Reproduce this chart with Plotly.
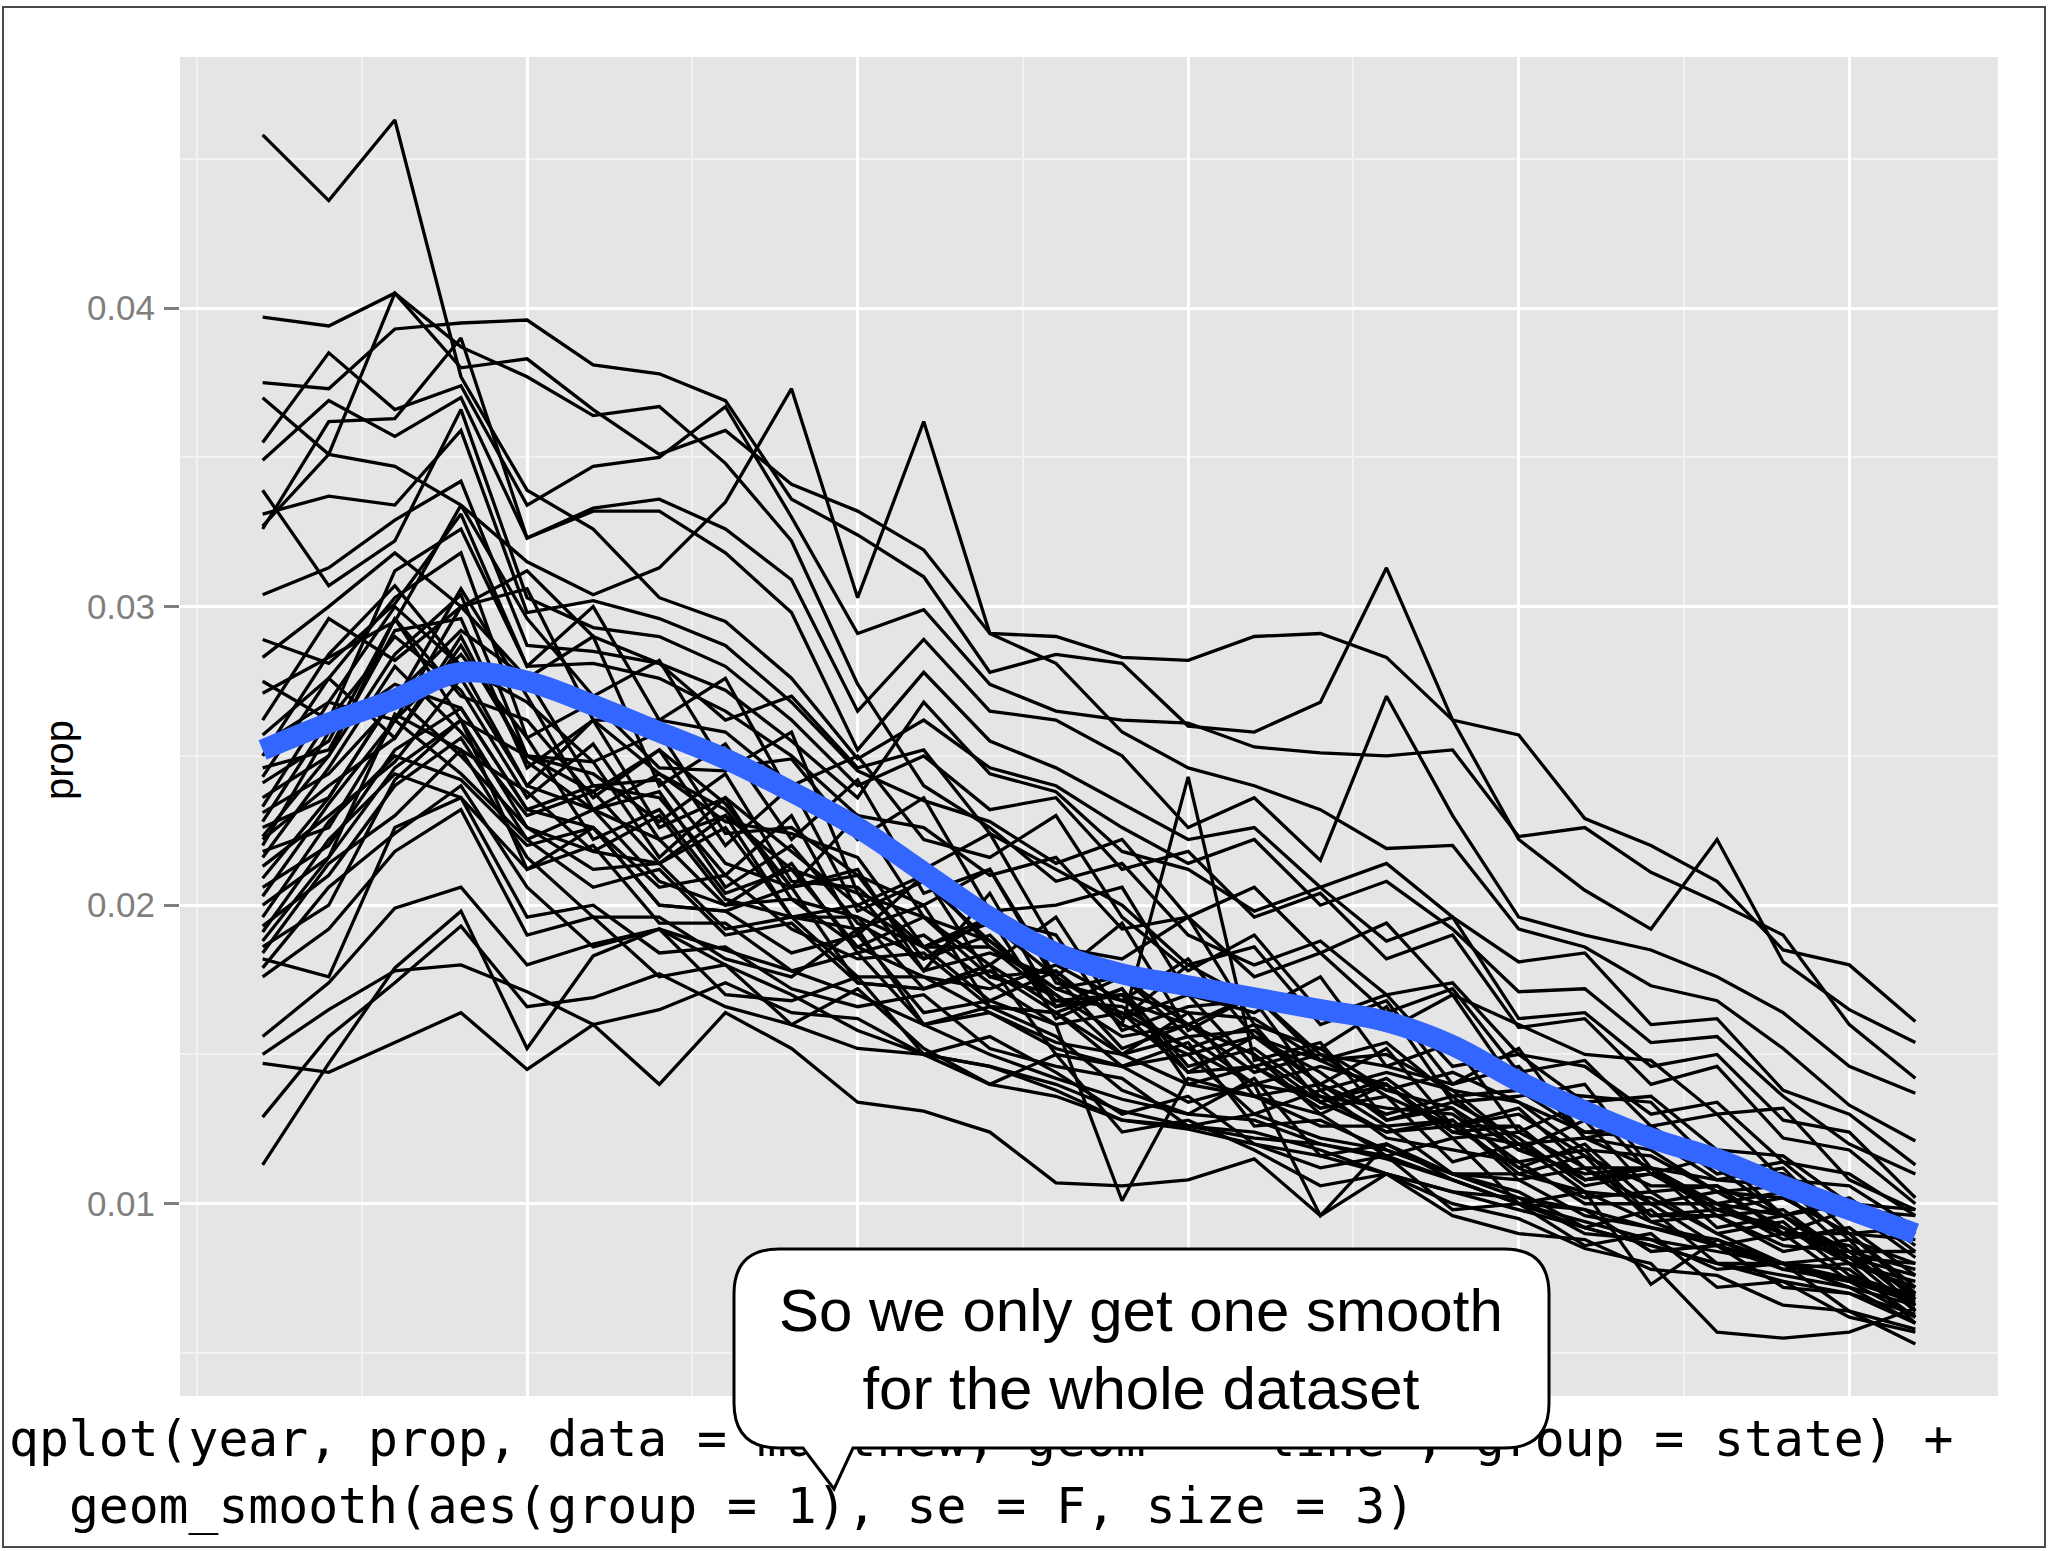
import plotly.graph_objects as go

# ---------------- data ----------------
years = [1986, 1987, 1988, 1989, 1990, 1991, 1992, 1993, 1994, 1995, 1996, 1997, 1998,
         1999, 2000, 2001, 2002, 2003, 2004, 2005, 2006, 2007, 2008, 2009, 2010, 2011]

# proportion of babies named Matthew, one series per state, in units of 1/10000
state_01 = [458, 436, 463, 377, 339, 326, 303, 295, 276, 249, 262, 246, 240, 226, 214, 222, 200, 208, 192, 171, 172, 154, 156, 136, 120, 110]
state_02 = [397, 394, 405, 380, 383, 366, 351, 359, 341, 332, 319, 291, 290, 283, 282, 290, 291, 283, 262, 257, 229, 220, 208, 185, 180, 161]
state_03 = [375, 373, 393, 395, 396, 381, 378, 369, 336, 324, 310, 278, 284, 281, 260, 258, 268, 313, 262, 222, 205, 192, 222, 181, 165, 154]
state_04 = [370, 351, 347, 334, 315, 304, 313, 335, 373, 303, 362, 291, 281, 258, 246, 240, 232, 219, 220, 192, 186, 173, 168, 152, 133, 121]
state_05 = [355, 385, 366, 374, 334, 347, 350, 367, 330, 291, 299, 274, 265, 262, 261, 253, 251, 250, 252, 223, 226, 211, 201, 190, 160, 142]
state_06 = [349, 369, 357, 370, 323, 333, 336, 326, 309, 265, 289, 265, 262, 250, 226, 236, 215, 270, 230, 196, 190, 185, 176, 164, 146, 137]
state_07 = [339, 307, 322, 366, 303, 293, 290, 280, 262, 240, 250, 232, 236, 212, 218, 196, 204, 182, 190, 159, 162, 140, 146, 122, 118, 100]
state_08 = [331, 337, 334, 359, 298, 302, 296, 287, 268, 245, 235, 228, 214, 222, 196, 206, 184, 194, 170, 160, 150, 148, 130, 132, 108, 98]
state_09 = [327, 351, 405, 387, 377, 364, 367, 348, 322, 274, 240, 226, 208, 214, 190, 180, 188, 170, 174, 150, 146, 130, 134, 114, 110, 96]
state_10 = [326, 362, 363, 390, 323, 332, 332, 318, 298, 252, 278, 255, 246, 234, 222, 226, 206, 214, 196, 181, 184, 160, 162, 138, 130, 113]
state_11 = [304, 313, 329, 342, 287, 285, 281, 272, 255, 236, 268, 244, 238, 218, 212, 198, 206, 188, 196, 162, 164, 146, 150, 128, 124, 102]
state_12 = [289, 281, 301, 331, 280, 281, 276, 265, 250, 230, 226, 210, 216, 192, 196, 176, 184, 164, 172, 144, 148, 126, 130, 108, 106, 92]
state_13 = [283, 300, 318, 300, 312, 290, 281, 262, 270, 246, 252, 224, 212, 200, 180, 186, 160, 168, 140, 146, 122, 118, 104, 106, 88, 80]
state_14 = [275, 262, 312, 326, 280, 300, 262, 258, 240, 250, 222, 216, 230, 196, 178, 190, 164, 158, 170, 138, 136, 134, 112, 110, 98, 96]
state_15 = [271, 283, 295, 334, 296, 270, 282, 246, 249, 222, 236, 198, 200, 206, 170, 164, 176, 146, 140, 152, 122, 126, 112, 96, 102, 86]
state_16 = [262, 296, 282, 300, 306, 262, 262, 276, 236, 226, 212, 224, 186, 182, 196, 160, 152, 166, 134, 136, 140, 112, 108, 112, 90, 92]
state_17 = [257, 276, 303, 318, 256, 268, 246, 245, 258, 204, 196, 188, 170, 156, 160, 150, 134, 140, 124, 126, 108, 112, 96, 98, 82, 80]
state_18 = [254, 268, 262, 300, 276, 290, 240, 254, 222, 242, 204, 212, 176, 194, 158, 170, 150, 146, 154, 124, 134, 110, 116, 96, 100, 84]
state_19 = [250, 284, 307, 280, 268, 248, 258, 224, 226, 210, 200, 212, 174, 168, 182, 156, 148, 138, 144, 134, 118, 116, 104, 102, 90, 88]
state_20 = [246, 252, 292, 296, 246, 262, 244, 232, 206, 230, 196, 180, 196, 162, 170, 146, 152, 138, 132, 118, 128, 104, 106, 90, 98, 82]
state_21 = [243, 276, 256, 287, 250, 238, 252, 220, 240, 198, 208, 188, 172, 164, 152, 160, 134, 142, 126, 126, 108, 110, 100, 96, 84, 84]
state_22 = [241, 255, 296, 270, 262, 236, 252, 234, 206, 210, 182, 190, 168, 170, 144, 156, 144, 128, 132, 112, 120, 100, 100, 88, 92, 76]
state_23 = [236, 250, 284, 304, 250, 244, 228, 244, 208, 206, 186, 194, 176, 162, 180, 168, 162, 170, 146, 150, 134, 136, 118, 116, 100, 98]
state_24 = [233, 268, 300, 280, 240, 262, 226, 236, 218, 200, 210, 186, 172, 176, 156, 158, 140, 152, 126, 132, 112, 112, 100, 104, 84, 78]
state_25 = [231, 244, 268, 306, 270, 232, 244, 228, 224, 216, 186, 196, 190, 158, 166, 168, 138, 144, 138, 120, 122, 112, 98, 102, 90, 72]
state_26 = [228, 262, 290, 272, 236, 254, 222, 230, 212, 204, 178, 204, 166, 176, 160, 144, 150, 136, 126, 130, 116, 106, 106, 96, 82, 76]
state_27 = [226, 236, 270, 292, 276, 240, 236, 210, 230, 190, 210, 176, 178, 160, 150, 156, 140, 130, 136, 118, 110, 112, 100, 90, 90, 70]
state_28 = [223, 250, 296, 262, 250, 248, 216, 236, 202, 196, 186, 186, 168, 166, 152, 140, 146, 140, 122, 124, 112, 100, 104, 92, 80, 74]
state_29 = [222, 240, 256, 290, 248, 232, 238, 206, 220, 194, 182, 196, 162, 172, 146, 152, 136, 132, 130, 114, 118, 96, 98, 90, 86, 68]
state_30 = [220, 258, 274, 266, 232, 240, 242, 214, 206, 212, 178, 184, 176, 152, 160, 150, 130, 140, 124, 120, 108, 112, 92, 96, 80, 72]
state_31 = [218, 226, 262, 284, 256, 222, 232, 204, 212, 186, 196, 176, 170, 150, 164, 136, 140, 126, 128, 110, 116, 94, 96, 86, 84, 66]
state_32 = [216, 246, 280, 258, 230, 238, 214, 226, 196, 200, 186, 168, 178, 160, 243, 148, 154, 128, 134, 122, 106, 110, 98, 92, 82, 70]
state_33 = [213, 230, 248, 276, 240, 232, 222, 200, 214, 184, 190, 174, 160, 164, 144, 146, 132, 136, 114, 120, 104, 102, 90, 94, 76, 69]
state_34 = [209, 236, 270, 250, 226, 218, 230, 202, 196, 196, 172, 178, 164, 150, 156, 140, 136, 124, 128, 108, 112, 96, 96, 84, 88, 64]
state_35 = [206, 220, 252, 266, 232, 226, 206, 210, 192, 182, 184, 166, 164, 146, 150, 130, 138, 122, 118, 114, 100, 100, 86, 90, 74, 67]
state_36 = [203, 234, 262, 244, 222, 232, 208, 200, 202, 186, 176, 172, 180, 168, 160, 170, 148, 150, 138, 134, 124, 122, 108, 106, 96, 92]
state_37 = [200, 216, 246, 262, 226, 212, 214, 192, 196, 176, 176, 164, 154, 150, 140, 136, 126, 126, 110, 110, 104, 73, 88, 80, 78, 62]
state_38 = [196, 228, 250, 242, 220, 226, 200, 198, 184, 190, 164, 168, 160, 101, 142, 136, 130, 116, 122, 100, 104, 94, 86, 78, 80, 60]
state_39 = [193, 210, 240, 256, 222, 206, 212, 190, 194, 174, 172, 180, 166, 170, 164, 162, 148, 154, 136, 138, 124, 126, 110, 114, 96, 90]
state_40 = [191, 222, 244, 236, 212, 220, 194, 194, 178, 184, 160, 164, 152, 146, 134, 140, 96, 120, 110, 104, 92, 98, 80, 80, 72, 60]
state_41 = [188, 216, 264, 252, 238, 218, 214, 230, 196, 192, 200, 166, 164, 172, 140, 146, 134, 124, 126, 112, 102, 104, 90, 80, 82, 64]
state_42 = [186, 200, 242, 262, 212, 226, 200, 198, 206, 174, 172, 180, 150, 146, 154, 126, 128, 118, 110, 108, 96, 92, 88, 78, 74, 62]
state_43 = [184, 214, 230, 252, 216, 196, 196, 182, 176, 192, 160, 166, 156, 138, 130, 142, 116, 120, 108, 100, 98, 84, 86, 72, 70, 60]
state_44 = [182, 176, 226, 236, 196, 200, 184, 186, 172, 166, 170, 152, 146, 142, 126, 124, 118, 110, 104, 102, 90, 88, 78, 80, 64, 58]
state_45 = [179, 206, 224, 240, 206, 186, 192, 170, 168, 176, 150, 156, 144, 130, 136, 120, 112, 116, 98, 100, 86, 90, 72, 74, 62, 57]
state_46 = [176, 192, 218, 232, 190, 196, 176, 180, 160, 172, 152, 140, 150, 124, 128, 118, 106, 110, 96, 90, 88, 78, 76, 66, 64, 53]
state_47 = [156, 174, 199, 206, 180, 187, 192, 180, 170, 158, 150, 146, 140, 131, 126, 130, 122, 118, 110, 102, 98, 92, 86, 80, 74, 70]
state_48 = [150, 165, 178, 180, 171, 160, 165, 174, 164, 162, 150, 140, 136, 128, 126, 122, 120, 116, 108, 100, 94, 88, 84, 80, 75, 68]
state_49 = [147, 144, 154, 164, 145, 160, 140, 164, 152, 134, 131, 124, 107, 106, 108, 115, 96, 110, 100, 95, 85, 80, 57, 55, 57, 65]
state_50 = [129, 156, 174, 193, 166, 169, 177, 166, 160, 152, 150, 146, 138, 128, 125, 120, 116, 110, 104, 98, 92, 86, 80, 76, 72, 66]
state_51 = [113, 147, 179, 198, 152, 183, 192, 185, 178, 170, 160, 150, 142, 135, 130, 128, 120, 115, 108, 100, 92, 86, 80, 74, 70, 63]

# geom_smooth (loess) curve
smooth_prop = [0.0252, 0.0261, 0.0269, 0.0278, 0.0275, 0.0267, 0.0258, 0.0249, 0.0238, 0.0226, 0.0211,
               0.0196, 0.0184, 0.0177, 0.0173, 0.0169, 0.0165, 0.0161, 0.0153, 0.0141, 0.0131, 0.0122,
               0.0115, 0.0106, 0.0098, 0.0090]

y_tick_values = [0.01, 0.02, 0.03, 0.04]
y_tick_labels = ["0.01", "0.02", "0.03", "0.04"]
y_minor_breaks = [0.005, 0.015, 0.025, 0.035, 0.045]
x_major_breaks = [1990, 1995, 2000, 2005, 2010]
x_minor_breaks = [1985, 1987.5, 1992.5, 1997.5, 2002.5, 2007.5]

y_title = "prop"
code_lines = ['qplot(year, prop, data = matthew, geom = "line", group = state) +',
              'geom_smooth(aes(group = 1), se = F, size = 3)']
callout_text = "So we only get one smooth<br>for the whole dataset"

all_states = [state_01, state_02, state_03, state_04, state_05, state_06, state_07, state_08, state_09,
              state_10, state_11, state_12, state_13, state_14, state_15, state_16, state_17, state_18,
              state_19, state_20, state_21, state_22, state_23, state_24, state_25, state_26, state_27,
              state_28, state_29, state_30, state_31, state_32, state_33, state_34, state_35, state_36,
              state_37, state_38, state_39, state_40, state_41, state_42, state_43, state_44, state_45,
              state_46, state_47, state_48, state_49, state_50, state_51]

# ---------------- layout geometry (pixels) ----------------
W, H = 2049, 1551
PANEL_L, PANEL_R, PANEL_T, PANEL_B = 180, 1998, 57, 1396

fig = go.Figure()

for vals in all_states:
    fig.add_trace(go.Scatter(
        x=years, y=[v / 10000 for v in vals], mode="lines",
        line=dict(color="black", width=3.3), hoverinfo="skip", showlegend=False))

fig.add_trace(go.Scatter(
    x=years, y=smooth_prop, mode="lines",
    line=dict(color="#3366FF", width=21, shape="spline", smoothing=1.0),
    hoverinfo="skip", showlegend=False))

# code text under the panel, on a full-figure pixel axis pair (x2/y2)
CHAR_W = 29.94
fig.add_trace(go.Scatter(
    x=[9, 9 + 2 * CHAR_W], y=[1443.5, 1510.5],
    xaxis="x2", yaxis="y2", mode="text", text=code_lines, textposition="middle right",
    textfont=dict(family="DejaVu Sans Mono", size=49.7, color="black"),
    cliponaxis=False, hoverinfo="skip", showlegend=False))

# callout bubble in pixel coordinates
x0, x1, y0, y1, r = 734, 1549, 1249, 1448, 45


def P(a, b):
    return f"{a},{b}"


bubble = (f"M {P(x0 + r, y0)} L {P(x1 - r, y0)} Q {P(x1, y0)} {P(x1, y0 + r)} "
          f"L {P(x1, y1 - r)} Q {P(x1, y1)} {P(x1 - r, y1)} "
          f"L {P(853, y1)} L {P(834, 1489)} L {P(803, y1)} "
          f"L {P(x0 + r, y1)} Q {P(x0, y1)} {P(x0, y1 - r)} "
          f"L {P(x0, y0 + r)} Q {P(x0, y0)} {P(x0 + r, y0)} Z")

shapes = [
    # grey panel background (paper coords == figure fraction, margins are 0)
    dict(type="rect", xref="paper", yref="paper", x0=PANEL_L / W, x1=PANEL_R / W,
         y0=(H - PANEL_B) / H, y1=(H - PANEL_T) / H,
         fillcolor="#E5E5E5", line=dict(width=0), layer="below"),
    dict(type="path", xref="x2", yref="y2", path=bubble, fillcolor="white",
         line=dict(color="black", width=3), layer="above"),
    dict(type="rect", xref="x2", yref="y2", x0=3, x1=2045, y0=7, y1=1547,
         line=dict(color="#4a4a4a", width=2), layer="above"),
]

annotations = [
    dict(text=y_title, xref="x2", yref="y2", x=59, y=760, textangle=-90,
         showarrow=False, xanchor="center", yanchor="middle",
         font=dict(family="Liberation Sans", size=40, color="black")),
    dict(text=callout_text, xref="x2", yref="y2", x=1141, y=1349,
         showarrow=False, xanchor="center", yanchor="middle", align="center",
         font=dict(family="Liberation Sans", size=60, color="black")),
]

fig.update_layout(
    width=W, height=H, margin=dict(l=0, r=0, t=0, b=0, pad=0, autoexpand=False),
    paper_bgcolor="white", plot_bgcolor="rgba(0,0,0,0)", showlegend=False,
    xaxis=dict(domain=[PANEL_L / W, PANEL_R / W], anchor="y",
               range=[1984.75, 2012.25], tickvals=x_major_breaks, showticklabels=False,
               ticks="", showgrid=True, gridcolor="white", gridwidth=3,
               zeroline=False, showline=False, fixedrange=True,
               minor=dict(tickvals=x_minor_breaks, showgrid=True, gridcolor="#F2F2F2",
                          gridwidth=1.6, ticks="")),
    yaxis=dict(domain=[(H - PANEL_B) / H, (H - PANEL_T) / H], anchor="x",
               range=[0.00356, 0.04841], tickvals=y_tick_values, ticktext=y_tick_labels,
               ticks="outside", ticklen=15, tickwidth=2.5, tickcolor="#7F7F7F",
               ticklabelstandoff=2,
               tickfont=dict(family="Liberation Sans", size=35, color="#7F7F7F"),
               showgrid=True, gridcolor="white", gridwidth=3, zeroline=False, showline=False,
               fixedrange=True,
               minor=dict(tickvals=y_minor_breaks, showgrid=True, gridcolor="#F2F2F2",
                          gridwidth=1.6, ticks="")),
    xaxis2=dict(domain=[0, 1], anchor="y2", range=[0, W], visible=False, fixedrange=True),
    yaxis2=dict(domain=[0, 1], anchor="x2", range=[H, 0], visible=False, fixedrange=True),
    shapes=shapes, annotations=annotations,
)

fig.write_html("out.html", config={"displayModeBar": False},
               post_script="document.body.style.margin='0px';document.body.style.overflow='hidden';")
